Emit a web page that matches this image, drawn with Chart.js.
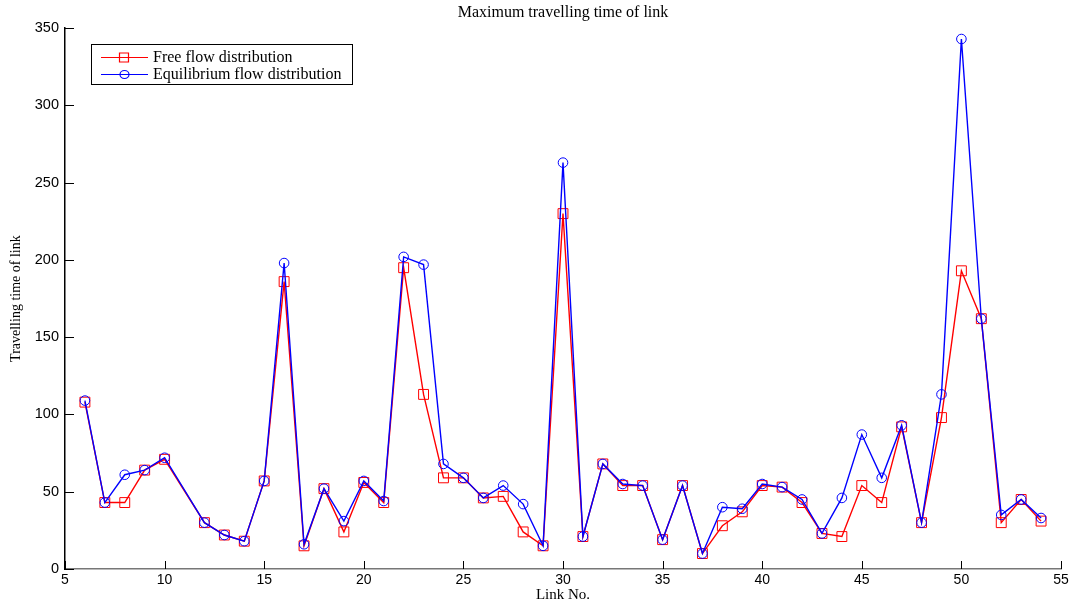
<!DOCTYPE html>
<html>
<head>
<meta charset="utf-8">
<script src="https://cdn.jsdelivr.net/npm/chart.js@4.4.1/dist/chart.umd.min.js"></script>
<style>
  html, body { margin: 0; padding: 0; background: #fff; }
  #wrap { width: 1069px; height: 606px; }
</style>
</head>
<body>
<div id="wrap"><canvas id="linkChart" width="1069" height="606"></canvas></div>
<script>
// link numbers (11 has no value)
const linkNo = [6, 7, 8, 9, 10, 12, 13, 14, 15, 16, 17, 18, 19, 20, 21, 22, 23, 24, 25, 26, 27, 28, 29, 30,
  31, 32, 33, 34, 35, 36, 37, 38, 39, 40, 41, 42, 43, 44, 45, 46, 47, 48, 49, 50, 51, 52, 53, 54];
const freeFlow = [108, 43, 43, 64, 71, 30, 22, 18, 57, 186, 15, 52, 24, 56, 43, 195, 113, 59, 59, 46, 47, 24, 15, 230,
  21, 68, 54, 54, 19, 54, 10, 28, 37, 54, 53, 43, 23, 21, 54, 43, 92, 30, 98, 193, 162, 30, 45, 31];
const equilibrium = [109, 43, 61, 64, 72, 30, 22, 18, 57, 198, 16, 52, 31, 57, 44, 202, 197, 68, 59, 46, 54, 42, 15, 263,
  21, 68, 55, 54, 19, 54, 10, 40, 39, 55, 53, 45, 23, 46, 87, 59, 93, 30, 113, 343, 162, 35, 45, 33];
const seriesNames = ["Free flow distribution", "Equilibrium flow distribution"];

const serif = "'Liberation Serif', 'Times New Roman', serif";
const sans = "'Liberation Sans', Arial, sans-serif";

// ticks pointing into the plot, like the original figure
const innerTicks = {
  id: "innerTicks",
  afterDraw(chart) {
    const ctx = chart.ctx, a = chart.chartArea;
    const xs = chart.scales.x, ys = chart.scales.y;
    ctx.save();
    ctx.strokeStyle = "#000";
    ctx.lineWidth = 1;
    xs.ticks.forEach(t => {
      const px = Math.round(xs.getPixelForValue(t.value)) + 0.5;
      ctx.beginPath(); ctx.moveTo(px, a.bottom); ctx.lineTo(px, a.bottom - 8); ctx.stroke();
    });
    ys.ticks.forEach(t => {
      const py = Math.round(ys.getPixelForValue(t.value)) + 0.5;
      ctx.beginPath(); ctx.moveTo(a.left, py); ctx.lineTo(a.left + 9, py); ctx.stroke();
    });
    ctx.restore();
  }
};

// boxed legend in the top-left corner of the plot
const boxLegend = {
  id: "boxLegend",
  afterDraw(chart) {
    const ctx = chart.ctx;
    const x0 = 91.5, y0 = 44.5, w = 261, h = 40;
    ctx.save();
    ctx.fillStyle = "#fff";
    ctx.fillRect(x0, y0, w, h);
    ctx.strokeStyle = "#000";
    ctx.lineWidth = 1;
    ctx.strokeRect(x0, y0, w, h);
    const rows = [
      { y: 57, color: "#ff0000", style: "rect" },
      { y: 74, color: "#0000ff", style: "circle" }
    ];
    ctx.font = "16px " + serif;
    ctx.textBaseline = "middle";
    rows.forEach((r, i) => {
      ctx.strokeStyle = r.color;
      ctx.lineWidth = 1.2;
      ctx.beginPath(); ctx.moveTo(101, r.y + 0.5); ctx.lineTo(148, r.y + 0.5); ctx.stroke();
      ctx.beginPath();
      if (r.style === "rect") ctx.rect(119.5, r.y - 4, 9, 9);
      else ctx.ellipse(124.5, r.y + 0.5, 4.5, 4, 0, 0, Math.PI * 2);
      ctx.stroke();
      ctx.fillStyle = "#000";
      ctx.fillText(seriesNames[i], 153, r.y + 1);
    });
    ctx.restore();
  }
};

new Chart(document.getElementById("linkChart"), {
  type: "line",
  data: {
    datasets: [{
      label: seriesNames[0],
      data: linkNo.map((x, i) => ({ x: x, y: freeFlow[i] })),
      borderColor: "#ff0000",
      backgroundColor: "transparent",
      borderWidth: 1.4,
      pointStyle: "rect",
      pointRadius: 7,
      pointBorderWidth: 1,
      pointBorderColor: "#ff0000",
      pointBackgroundColor: "transparent",
      tension: 0,
      order: 2
    }, {
      label: seriesNames[1],
      data: linkNo.map((x, i) => ({ x: x, y: equilibrium[i] })),
      borderColor: "#0000ff",
      backgroundColor: "transparent",
      borderWidth: 1.4,
      pointStyle: "circle",
      pointRadius: 4.8,
      pointBorderWidth: 1,
      pointBorderColor: "#0000ff",
      pointBackgroundColor: "transparent",
      tension: 0,
      order: 1
    }]
  },
  options: {
    responsive: false,
    animation: false,
    devicePixelRatio: 1,
    layout: { padding: { left: 0, right: 2, top: 0, bottom: 0 } },
    plugins: {
      legend: { display: false },
      tooltip: { enabled: false },
      title: {
        display: true,
        fullSize: false,
        text: "Maximum travelling time of link",
        color: "#000",
        font: { family: serif, size: 16, weight: "normal" },
        padding: { top: 3, bottom: 6 }
      }
    },
    scales: {
      x: {
        type: "linear",
        min: 5,
        max: 55,
        ticks: { stepSize: 5, color: "#000", font: { family: sans, size: 14 }, padding: 3, maxRotation: 0 },
        grid: { display: false, drawTicks: false },
        border: { display: true, color: "#777", width: 1.5 },
        title: { display: true, text: "Link No.", color: "#000", font: { family: serif, size: 15 }, padding: { top: 0, bottom: 2 } },
        afterFit(s) { s.height = 37; s.paddingLeft = 0; s.paddingRight = 0; }
      },
      y: {
        min: 0,
        max: 350,
        ticks: { stepSize: 50, color: "#000", font: { family: sans, size: 14.5 }, padding: 6 },
        grid: { display: false, drawTicks: false },
        border: { display: true, color: "#000", width: 1.5 },
        title: { display: true, text: "Travelling time of link", color: "#000", font: { family: serif, size: 14 }, padding: { top: 8, bottom: 0 } },
        afterFit(s) { s.width = 65; }
      }
    }
  },
  plugins: [innerTicks, boxLegend]
});
</script>
</body>
</html>
